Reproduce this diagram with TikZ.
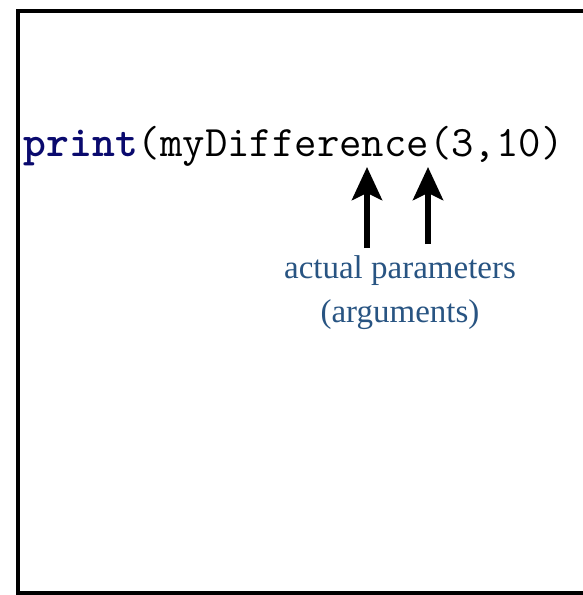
\documentclass[tikz,border=0pt]{standalone}
\usepackage{fontspec}
\newfontfamily\labelfont{Liberation Serif}
\usetikzlibrary{arrows.meta}
\definecolor{keyword}{RGB}{10,10,110}
\definecolor{labelblue}{RGB}{40,84,130}
\tikzset{
  frame/.style={line width=4pt, draw=black},
  code/.style={inner sep=0pt, anchor=base west, font=\ttfamily\fontsize{43.5}{43.5}\selectfont},
  note/.style={inner sep=0pt, align=center, text=labelblue, font=\labelfont\fontsize{33}{44}\selectfont},
  pointer/.style={line width=6pt, -{Stealth[length=33pt,width=30pt,inset=7pt]}}
}
\begin{document}
\begin{tikzpicture}[x=1pt,y=-1pt]
  \useasboundingbox (0,0) rectangle (583,595);
  % page frame, open to the right
  \draw[frame] (585,11) -- (17.5,11) -- (17.5,593) -- (585,593);
  % the function call
  \node[code] (call) at (23.5,156) {\textcolor{keyword}{\bfseries print}(myDifference(3,10)};
  % caption (base anchor sits on the last line)
  \node[note, anchor=base] (caption) at (400,322) {actual parameters\\(arguments)};
  % pointer ends
  \coordinate (tailA) at (367,248);
  \coordinate (tipA) at (367,167);
  \coordinate (tailB) at (428,244);
  \coordinate (tipB) at (428,167);
  \draw[pointer] (tailA) -- (tipA);
  \draw[pointer] (tailB) -- (tipB);
\end{tikzpicture}
\end{document}
